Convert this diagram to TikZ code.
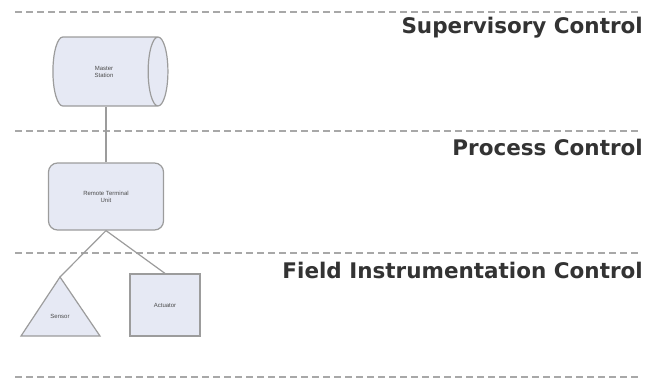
\documentclass[tikz,border=0pt]{standalone}
\usepackage{fontspec}
\setmainfont{Liberation Sans}
\newfontfamily\lblfont{DejaVu Sans}
\usetikzlibrary{shapes.geometric}
\definecolor{boxfill}{HTML}{E6E9F4}
\definecolor{boxline}{HTML}{9C9C9C}
\definecolor{dashcol}{HTML}{A8A8A8}
\definecolor{lbl}{HTML}{333333}
\tikzset{
  layerline/.style={draw=dashcol, line width=1.1pt, dash pattern=on 7pt off 4pt},
  layerlabel/.style={anchor=east, text=lbl, font=\lblfont\fontsize{21.5}{23}\selectfont\bfseries, inner sep=0pt},
  comp/.style={draw=boxline, fill=boxfill, line width=1.2pt, font=\fontsize{6}{7}\selectfont, text=black!70, align=center, inner sep=1pt},
  link/.style={draw=boxline, line width=1.2pt}
}
\begin{document}
\begin{tikzpicture}[x=1pt,y=-1pt]
\useasboundingbox (0,0) rectangle (647,389);
% layer lines
\coordinate (l1a) at (15,12);  \coordinate (l1b) at (640,12);
\coordinate (l2a) at (15,131); \coordinate (l2b) at (640,131);
\coordinate (l3a) at (15,253); \coordinate (l3b) at (640,253);
\coordinate (l4a) at (15,377); \coordinate (l4b) at (640,377);
\draw[layerline] (l1a) -- (l1b);
\draw[layerline] (l2a) -- (l2b);
\draw[layerline] (l3a) -- (l3b);
\draw[layerline] (l4a) -- (l4b);
% labels
\node[layerlabel] (sup) at (643,28) {Supervisory Control};
\node[layerlabel] (proc) at (643,147) {Process Control};
\node[layerlabel] (field) at (643,270) {Field Instrumentation Control};
% components
\node[comp, cylinder, shape aspect=1.5, minimum width=69pt, minimum height=115pt] (master) at (104,71.5) {Master\\Station};
\node[comp, rectangle, rounded corners=9pt, minimum width=115pt, minimum height=67pt] (rtu) at (106,196.5) {Remote Terminal\\Unit};
\node[comp, rectangle, minimum width=70pt, minimum height=62pt] (act) at (165,305) {Actuator};
\coordinate (sa) at (60,277);
\coordinate (sl) at (21,336);
\coordinate (sr) at (100,336);
\draw[comp] (sa) -- (sr) -- (sl) -- cycle;
\node[font=\fontsize{6}{7}\selectfont, text=black!70] (sensor) at (60,316) {Sensor};
% links
\draw[link] (rtu.north) -- (rtu.north |- master.south);
\draw[link] (rtu.south) -- (sa);
\draw[link] (rtu.south) -- (act.north);
\end{tikzpicture}
\end{document}
